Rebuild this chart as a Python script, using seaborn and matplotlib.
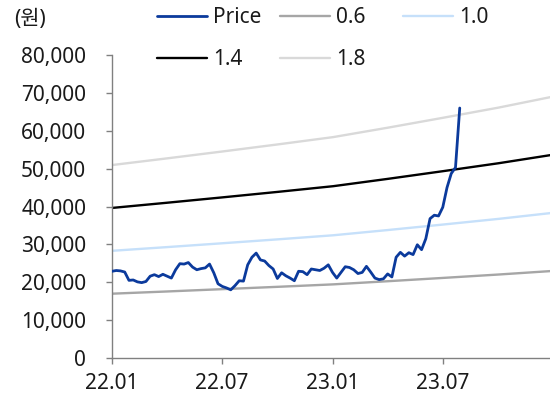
import matplotlib
matplotlib.use("Agg")
import matplotlib.pyplot as plt
from matplotlib.ticker import FuncFormatter
import pandas as pd
import seaborn as sns

# ---------------- data ----------------
price_start = "2022-01-01"
price = [22900, 23100, 23000, 22700, 20500, 20600, 20100, 19900, 20200, 21600,
         22000, 21500, 22100, 21600, 21100, 23300, 24900, 24800, 25200, 24000,
         23300, 23600, 23800, 24800, 22500, 19600, 18900, 18500, 18000, 19100,
         20400, 20300, 24600, 26600, 27700, 25900, 25600, 24400, 23500, 21000,
         22500, 21700, 21100, 20400, 22900, 22800, 22000, 23500, 23300, 23100,
         23700, 24600, 22600, 21100, 22600, 24100, 23900, 23300, 22300, 22600,
         24200, 22700, 21100, 20700, 20900, 22200, 21400, 26600, 27900, 26900,
         27800, 27300, 29900, 28600, 31500, 36800, 37700, 37500, 39800, 45000,
         48700, 50300, 66000]

band_dates = ["2022-01-01", "2022-04-01", "2022-07-01", "2022-10-01", "2023-01-01",
              "2023-04-01", "2023-07-01", "2023-10-01", "2023-12-31"]
band_06 = [16980, 17560, 18170, 18790, 19440, 20270, 21140, 22040, 23000]
band_10 = [28300, 29270, 30280, 31320, 32400, 33780, 35230, 36730, 38350]
band_14 = [39620, 40980, 42390, 43850, 45360, 47290, 49320, 51420, 53700]
band_18 = [50940, 52690, 54500, 56380, 58320, 60800, 63410, 66110, 69050]

series_names = ["Price", "0.6", "1.0", "1.4", "1.8"]
tick_dates = ["2022-01-01", "2022-07-01", "2023-01-01", "2023-07-01"]
tick_labels = ["22.01", "22.07", "23.01", "23.07"]
y_ticks = [0, 10000, 20000, 30000, 40000, 50000, 60000, 70000, 80000]
y_unit = "(원)"

# ---------------- styles ----------------
colors = {"Price": "#0b3a9c", "0.6": "#a6a6a6", "1.0": "#c6e0fa",
          "1.4": "#000000", "1.8": "#d9d9d9"}
widths = {"Price": 2.0, "0.6": 1.7, "1.0": 1.7, "1.4": 1.7, "1.8": 1.7}

sns.set_style("white")
plt.rcParams["font.family"] = ["Noto Sans", "Noto Sans CJK KR", "DejaVu Sans"]
FS = 15
TXT = "#1a1a1a"

price_df = pd.DataFrame({
    "date": pd.date_range(price_start, periods=len(price), freq="7D"),
    "value": price, "series": "Price"})
band_frames = []
for name, vals in zip(["0.6", "1.0", "1.4", "1.8"], [band_06, band_10, band_14, band_18]):
    band_frames.append(pd.DataFrame({"date": pd.to_datetime(band_dates),
                                     "value": vals, "series": name}))
df = pd.concat(band_frames + [price_df], ignore_index=True)

fig = plt.figure(figsize=(5.5, 3.98), dpi=100)
ax = fig.add_axes([112 / 550, 40 / 398, 1 - 112 / 550, (358 - 55) / 398])

handles = {}
for name in ["0.6", "1.0", "1.4", "1.8", "Price"]:
    sub = df[df["series"] == name]
    sns.lineplot(data=sub, x="date", y="value", ax=ax, color=colors[name],
                 linewidth=widths[name], label=name, legend=False,
                 zorder=3 if name == "Price" else 2)
    handles[name] = ax.get_lines()[-1]

ax.set_xlim(pd.Timestamp("2022-01-01"), pd.Timestamp("2023-12-25"))
ax.set_ylim(0, 80000)
ax.set_yticks(y_ticks)
ax.yaxis.set_major_formatter(FuncFormatter(lambda v, p: f"{int(v):,}"))
ax.set_xticks(pd.to_datetime(tick_dates))
ax.set_xticklabels(tick_labels)
ax.set_xlabel("")
ax.set_ylabel("")

for s in ["top", "right"]:
    ax.spines[s].set_visible(False)
for s in ["left", "bottom"]:
    ax.spines[s].set_color("#808080")
    ax.spines[s].set_linewidth(1.0)
ax.tick_params(axis="y", direction="out", length=4.5, width=1, color="#808080",
               pad=14, labelsize=FS, labelcolor=TXT, left=True)
ax.tick_params(axis="x", direction="out", length=4.5, width=1, color="#808080",
               pad=6, labelsize=FS, labelcolor=TXT, bottom=True)
ax.grid(False)

fig.text(14 / 550, 1 - 9 / 398, y_unit, ha="left", va="top", fontsize=FS, color=TXT)

# legend: three equally spaced columns, rows read Price,0.6,1.0 / 1.4,1.8
legend_columns = [["Price", "1.4"], ["0.6", "1.8"], ["1.0"]]
col_x = [157, 280, 403]
for names, x0 in zip(legend_columns, col_x):
    leg = fig.legend([handles[n] for n in names], names, ncol=1,
                     loc="upper left", bbox_to_anchor=(x0 / 550, 1 - 7 / 398),
                     frameon=False, fontsize=FS, handlelength=2.4, handletextpad=0.3,
                     labelspacing=1.0, borderpad=0, borderaxespad=0)
    for t in leg.get_texts():
        t.set_color(TXT)

fig.savefig("out.png", dpi=100)
